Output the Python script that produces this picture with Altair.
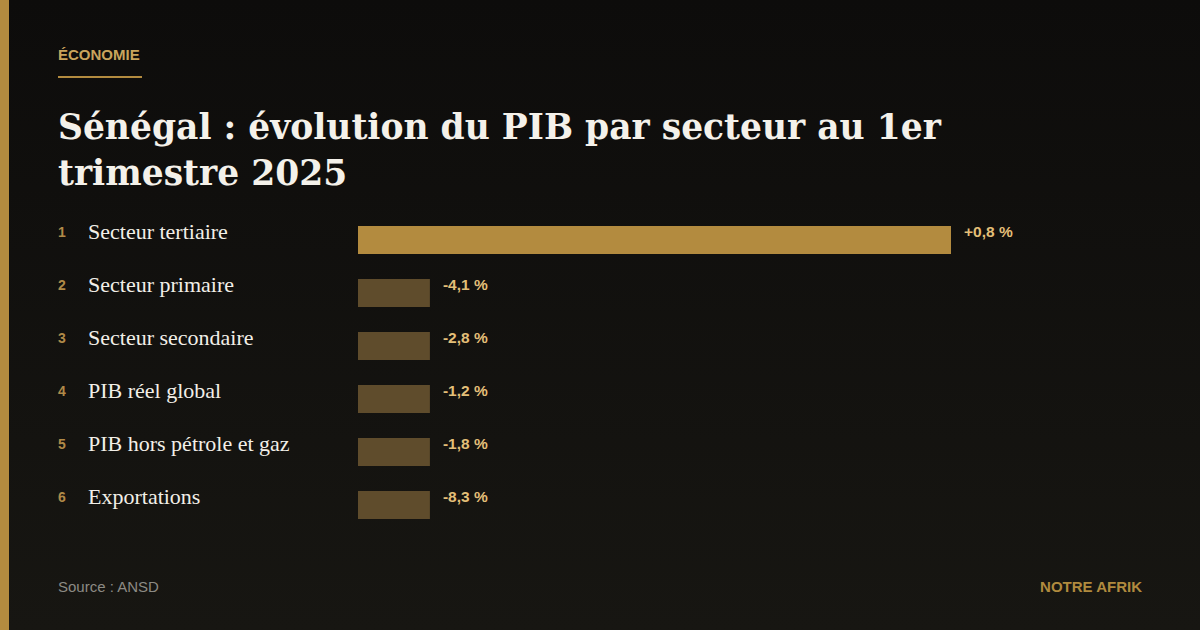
import altair as alt
import pandas as pd

# --- data -------------------------------------------------------------
ranks = [1, 2, 3, 4, 5, 6]
categories = [
    "Secteur tertiaire",
    "Secteur primaire",
    "Secteur secondaire",
    "PIB réel global",
    "PIB hors pétrole et gaz",
    "Exportations",
]
values = [0.8, -4.1, -2.8, -1.2, -1.8, -8.3]

section = "ÉCONOMIE"
title_lines = ["Sénégal : évolution du PIB par secteur au 1er", "trimestre 2025"]
source = "Source : ANSD"
brand = "NOTRE AFRIK"


def fmt(v):
    return f"{v:+.1f}".replace(".", ",") + " %"


df = pd.DataFrame({
    "rank": ranks,
    "category": categories,
    "value": values,
    "label": [fmt(v) for v in values],
})

# --- layout / style ---------------------------------------------------
W, H = 1200, 630
GOLD = "#b38b3f"
GOLD_DIM = "#5f4c2c"
STUB = 0.097  # declines are shown as a short fixed stub

TITLE_SERIF = "DejaVu Serif"
LABEL_SERIF = "Liberation Serif"
SANS = "Liberation Sans"

x_scale = alt.Scale(domain=[0, max(values)], range=[358, 951], nice=False)
y_enc = alt.Y(
    "category:N",
    sort=categories,
    axis=None,
    scale=alt.Scale(range=[213.5, 531.5], paddingInner=25 / 53, paddingOuter=12.5 / 53),
)

one = pd.DataFrame({"k": [0]})

background = alt.Chart(one).mark_rect(
    color=alt.Gradient(
        gradient="linear", x1=0, y1=0, x2=0, y2=1,
        stops=[alt.GradientStop(offset=0, color="#0d0c0b"),
               alt.GradientStop(offset=1, color="#171612")],
    )
).encode(x=alt.value(0), x2=alt.value(W), y=alt.value(0), y2=alt.value(H))

strip = alt.Chart(one).mark_rect(color=GOLD).encode(
    x=alt.value(0), x2=alt.value(9), y=alt.value(0), y2=alt.value(H)
)

kicker = alt.Chart(pd.DataFrame({"t": [section]})).mark_text(
    align="left", baseline="alphabetic", font=SANS, fontWeight="bold",
    fontSize=15, color="#c9a45c",
).encode(x=alt.value(58), y=alt.value(60), text="t:N")

kicker_rule = alt.Chart(one).mark_rule(color=GOLD, strokeWidth=2).encode(
    x=alt.value(58), x2=alt.value(142), y=alt.value(77)
)

title = alt.Chart(pd.DataFrame({"t": ["\n".join(title_lines)]})).mark_text(
    align="left", baseline="alphabetic", font=TITLE_SERIF, fontWeight="bold",
    fontSize=34.5, lineHeight=46, lineBreak="\n", color="#f4f1ea",
).encode(x=alt.value(58), y=alt.value(139), text="t:N")

base = alt.Chart(df).transform_calculate(
    bar_len=f"datum.value > 0 ? datum.value : {STUB}"
)

bars = base.mark_bar().encode(
    x=alt.X("bar_len:Q", scale=x_scale, axis=None),
    y=y_enc,
    color=alt.condition("datum.value > 0", alt.value(GOLD), alt.value(GOLD_DIM)),
)

value_labels = base.mark_text(
    align="left", baseline="alphabetic", dx=13, dy=-3, font=SANS,
    fontWeight="bold", fontSize=15.5, color="#e3bf78",
).encode(x=alt.X("bar_len:Q", scale=x_scale, axis=None), y=y_enc, text="label:N")

rank_labels = base.mark_text(
    align="left", baseline="alphabetic", dy=-3, font=SANS, fontWeight="bold",
    fontSize=14, color="#b08a48",
).encode(x=alt.value(58), y=y_enc, text="rank:N")

cat_labels = base.mark_text(
    align="left", baseline="alphabetic", dy=-1, font=LABEL_SERIF, fontSize=22,
    color="#f2efe8",
).encode(x=alt.value(88), y=y_enc, text="category:N")

footer_src = alt.Chart(pd.DataFrame({"t": [source]})).mark_text(
    align="left", baseline="alphabetic", font=SANS, fontSize=15, color="#8c8a84",
).encode(x=alt.value(58), y=alt.value(592), text="t:N")

footer_brand = alt.Chart(pd.DataFrame({"t": [brand]})).mark_text(
    align="right", baseline="alphabetic", font=SANS, fontWeight="bold",
    fontSize=15, color="#b08a3e",
).encode(x=alt.value(1142), y=alt.value(592), text="t:N")

chart = alt.layer(
    background, strip, kicker, kicker_rule, title,
    bars, value_labels, rank_labels, cat_labels,
    footer_src, footer_brand,
).properties(
    width=W, height=H, padding=0,
    autosize=alt.AutoSizeParams(type="none"),
    background="#111010",
).configure_view(stroke=None)

chart.save("out.html", embed_options={"renderer": "svg", "actions": False})
